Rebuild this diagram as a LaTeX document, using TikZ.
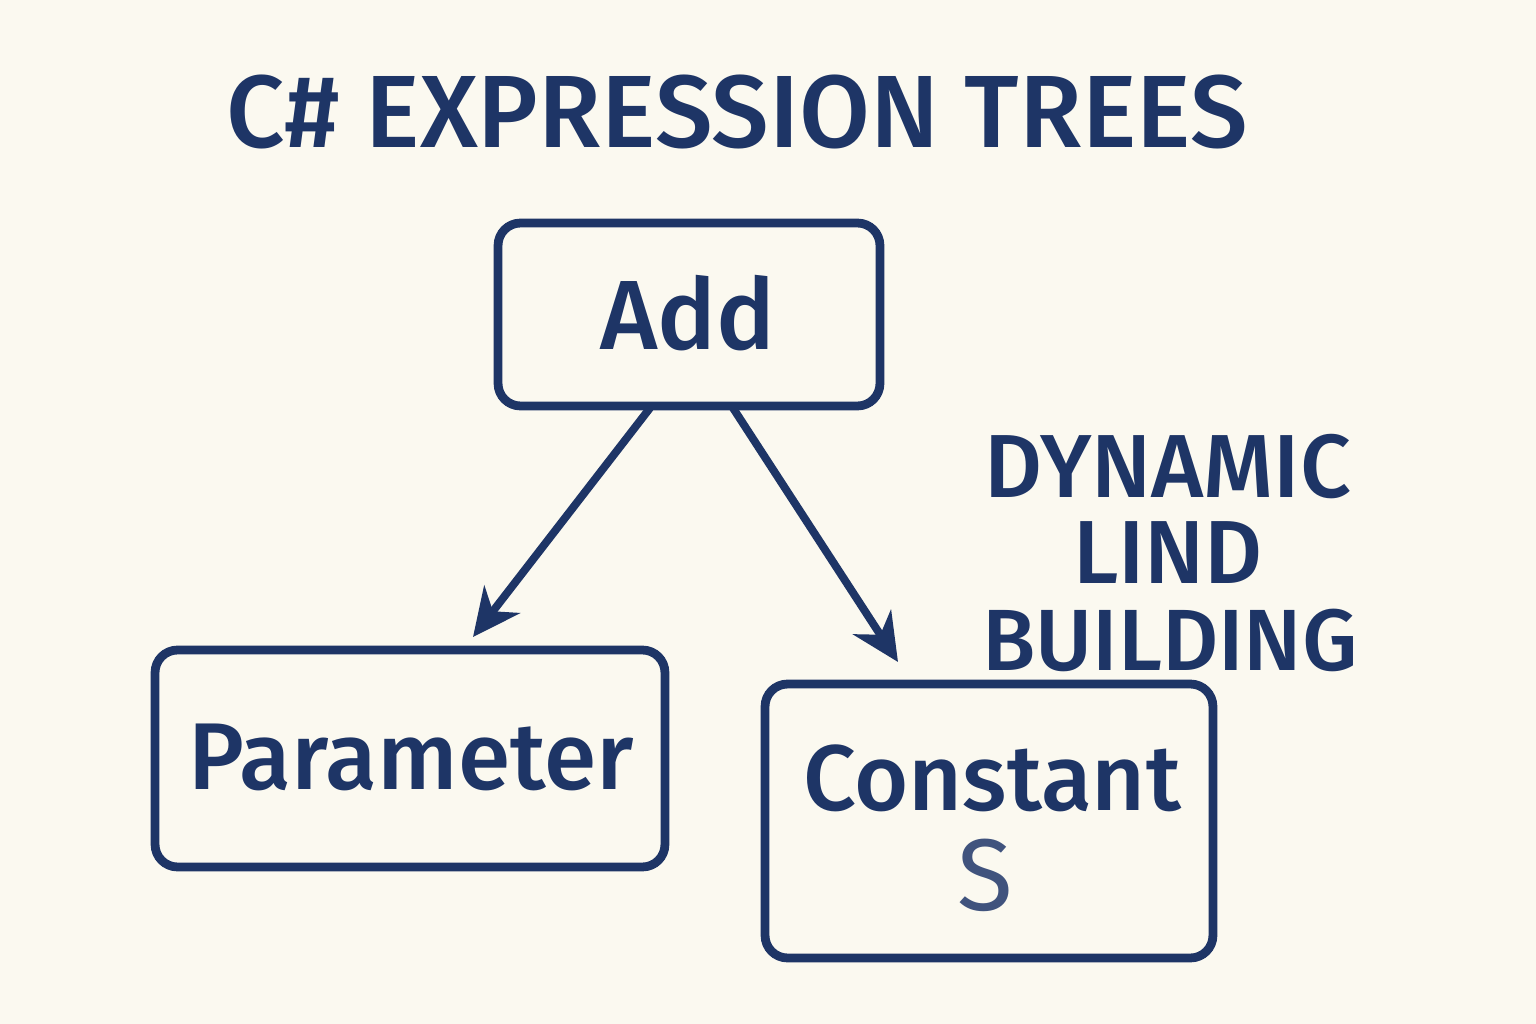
\documentclass[tikz,border=0pt]{standalone}
\usepackage{fontspec}
\setmainfont{Fira Sans}
\newfontfamily\medf{Fira Sans Medium}
\usetikzlibrary{arrows.meta}
\definecolor{ink}{HTML}{1E3566}
\definecolor{paper}{HTML}{FBF9F0}
\tikzset{
  box/.style={draw=ink, line width=5pt, rounded corners=0.45cm},
  lbl/.style={text=ink, inner sep=0pt, anchor=center},
  conn/.style={draw=ink, line width=4.5pt, -{Stealth[length=0.95cm, width=0.9cm, inset=0.3cm]}}
}
\begin{document}
\begin{tikzpicture}[x=0.02cm, y=-0.02cm]
\fill[paper] (0,0) rectangle (1536,1024);
\useasboundingbox (0,0) rectangle (1536,1024);
\node[lbl, font=\medf\fontsize{58.5}{70}\selectfont] (title) at (737,112) {C\# EXPRESSION TREES};
\node[box, minimum width=7.64cm, minimum height=3.66cm] (add) at (689,314.5) {};
\node[lbl, font=\medf\fontsize{56}{70}\selectfont] (addt) at (688,313) {Add};
\node[box, minimum width=10.2cm, minimum height=4.34cm] (par) at (410,758.5) {};
\node[lbl, font=\medf\fontsize{54}{64}\selectfont] (part) at (411,757) {Parameter};
\node[box, minimum width=8.96cm, minimum height=5.48cm] (con) at (989,821) {};
\node[lbl, font=\medf\fontsize{53}{68}\selectfont] (cont) at (992,778) {Constant};
\node[lbl, font=\fontsize{58}{64}\selectfont, text=ink!85] (cons) at (985,875) {S};
\node[lbl, font=\medf\fontsize{51}{60}\selectfont] (dyn) at (1168,467) {DYNAMIC};
\node[lbl, font=\medf\fontsize{51}{60}\selectfont] (lind) at (1168,553) {LIND};
\node[lbl, font=\medf\fontsize{49.5}{60}\selectfont] (bld) at (1170,640) {BUILDING};
\coordinate (a1) at (650,408);
\coordinate (e1) at (473,637);
\coordinate (a2) at (733,408);
\coordinate (e2) at (898,662);
\draw[conn] (a1) -- (e1);
\draw[conn] (a2) -- (e2);
\end{tikzpicture}
\end{document}
